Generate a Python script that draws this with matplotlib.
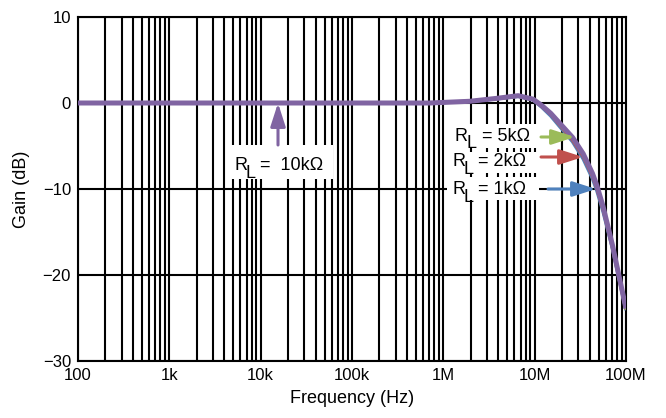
import numpy as np
import matplotlib
matplotlib.use("Agg")
import matplotlib.pyplot as plt
from matplotlib.ticker import FixedLocator, LogLocator, NullFormatter
from matplotlib.transforms import IdentityTransform
from matplotlib.patches import Rectangle

plt.rcParams['font.family'] = ['Liberation Sans', 'DejaVu Sans']

# Data (frequency in Hz, gain in dB)
freq = [100, 1e3, 1e4, 1e5, 7.1e5, 1.95e6, 3.9e6, 6.6e6, 9.6e6, 12e6, 15e6, 19e6,
        26e6, 34e6, 43e6, 48e6, 56e6, 71e6, 85e6, 100e6]
gain_10k = [0, 0, 0, 0, 0.0, 0.2, 0.55, 0.85, 0.45, -0.3, -1.2, -2.4,
            -4.0, -5.9, -8.2, -9.6, -12.0, -16.5, -20.4, -23.9]
gain_5k = [0, 0, 0, 0, 0.0, 0.2, 0.55, 0.85, 0.45, -0.3, -1.2, -2.5,
           -4.1, -6.0, -8.3, -9.7, -12.1, -16.6, -20.5, -24.0]
gain_2k = [0, 0, 0, 0, 0.0, 0.2, 0.52, 0.82, 0.4, -0.4, -1.3, -2.6,
           -4.3, -6.2, -8.5, -9.9, -12.3, -16.7, -20.6, -24.0]
gain_1k = [0, 0, 0, 0, 0.0, 0.18, 0.5, 0.78, 0.35, -0.5, -1.5, -2.8,
           -4.5, -6.5, -8.8, -10.2, -12.6, -16.9, -20.7, -24.1]

label_values = ["=  10k\u03a9", "= 5k\u03a9", "= 2k\u03a9", "= 1k\u03a9"]
xtick_vals = [1e2, 1e3, 1e4, 1e5, 1e6, 1e7, 1e8]
xtick_labels = ["100", "1k", "10k", "100k", "1M", "10M", "100M"]
ytick_vals = [-30, -20, -10, 0, 10]

W, H = 666, 418
fig = plt.figure(figsize=(W / 100, H / 100), dpi=100)
ax = fig.add_axes([78 / W, 1 - 361 / H, (626 - 78) / W, (361 - 17) / H])

ax.set_xscale('log')
ax.set_xlim(1e2, 1e8)
ax.set_ylim(-30, 10)

ax.xaxis.set_major_locator(FixedLocator(xtick_vals))
ax.xaxis.set_minor_locator(LogLocator(base=10, subs=np.arange(2, 10), numticks=20))
ax.xaxis.set_minor_formatter(NullFormatter())
ax.set_xticks(xtick_vals)
ax.set_xticklabels(xtick_labels)
ax.set_yticks(ytick_vals)
ax.grid(True, which='both', axis='x', color='black', linewidth=1.5)
ax.grid(True, which='major', axis='y', color='black', linewidth=1.5)
ax.tick_params(which='both', length=0, labelsize=12, pad=5)
for s in ax.spines.values():
    s.set_linewidth(1.5)
ax.set_axisbelow(True)

c_green = '#9bbb59'
c_red = '#c0504d'
c_blue = '#4f81bd'
c_purple = '#8064a2'

ax.plot(freq, gain_1k, color=c_blue, lw=2.5, zorder=3, solid_capstyle='butt')
ax.plot(freq, gain_2k, color=c_red, lw=2.5, zorder=3, solid_capstyle='butt')
ax.plot(freq, gain_5k, color=c_green, lw=2.5, zorder=3, solid_capstyle='butt')
ax.plot(freq, gain_10k, color=c_purple, lw=3.6, zorder=4, solid_capstyle='butt')

ax.set_xlabel("Frequency (Hz)", fontsize=13, labelpad=5)
ax.set_ylabel("Gain (dB)", fontsize=13, labelpad=9)

ident = IdentityTransform()


def fx(px):
    return 10 ** (2 + (px - 78) / 91.33)


def fy(py):
    return 10 - (py - 17) / 8.6


def label(x_px, base_px, value, box):
    x0, x1, y0, y1 = box
    ax.add_patch(Rectangle((x0, H - y1), x1 - x0, y1 - y0, transform=ident,
                           fc='white', ec='none', zorder=2.5, clip_on=False))
    kw = dict(fontsize=13, ha='left', va='baseline', transform=ident, zorder=5)
    ax.text(x_px, H - base_px, "R", **kw)
    ax.text(x_px + 11.5, H - base_px - 7.5, "L", **kw)
    ax.text(x_px + 26.5, H - base_px, value, **kw)


label(234, 170, label_values[0], (228, 333, 145, 179))
label(455, 141, label_values[1], (447, 538, 124, 148))
label(452, 166, label_values[2], (447, 538, 152, 173))
label(452, 194, label_values[3], (447, 539, 177, 200))

ap = lambda c: dict(arrowstyle='-|>,head_width=0.45,head_length=1.4', color=c, lw=2.2,
                    shrinkA=0, shrinkB=0)
ax.annotate("", xy=(fx(278), fy(103)), xytext=(fx(278), fy(145)), arrowprops=ap(c_purple), zorder=5)
ax.annotate("", xy=(fx(575), fy(137)), xytext=(fx(541), fy(137)), arrowprops=ap(c_green), zorder=6)
ax.annotate("", xy=(fx(583), fy(157)), xytext=(fx(541), fy(157)), arrowprops=ap(c_red), zorder=6)
ax.annotate("", xy=(fx(596), fy(189)), xytext=(fx(548), fy(189)), arrowprops=ap(c_blue), zorder=6)

fig.savefig("out.png", dpi=100)
